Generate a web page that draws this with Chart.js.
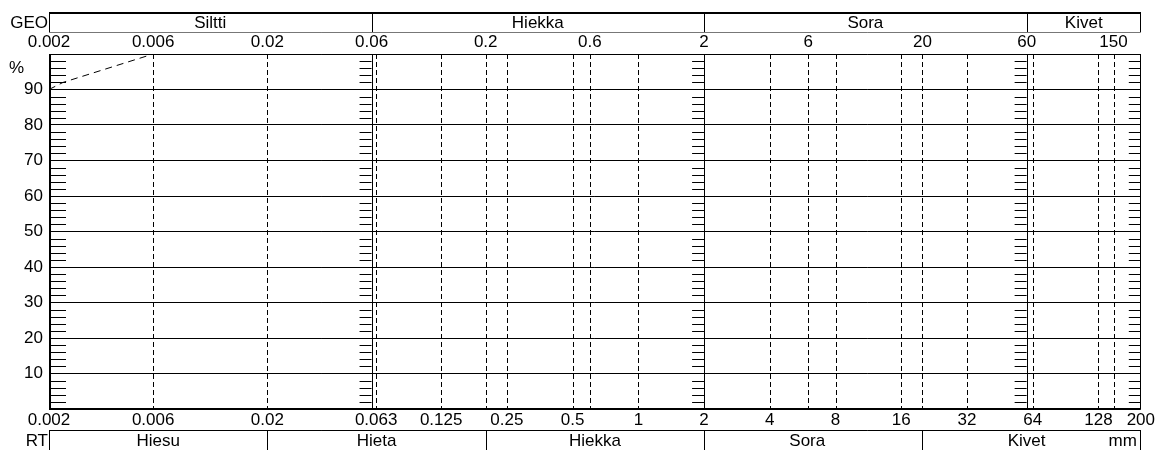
<!DOCTYPE html>
<html>
<head>
<meta charset="utf-8">
<title>Rakeisuuskäyrä</title>
<script src="https://cdn.jsdelivr.net/npm/chart.js@4/dist/chart.umd.min.js"></script>
<style>
  html, body { margin: 0; padding: 0; background: #fff; }
  #wrap { width: 1156px; height: 450px; position: relative; }
</style>
</head>
<body>
<div id="wrap"><canvas id="chart"></canvas></div>
<script>
// grain size classes (mm)
const geoBounds = [0.002, 0.06, 2, 60, 200];
const geoNames = ['Siltti', 'Hiekka', 'Sora', 'Kivet'];
const rtBounds = [0.002, 0.02, 0.2, 2, 20, 200];
const rtNames = ['Hiesu', 'Hieta', 'Hiekka', 'Sora', 'Kivet'];

// tick labels
const topTicks = [0.002, 0.006, 0.02, 0.06, 0.2, 0.6, 2, 6, 20, 60, 150];
const bottomTicks = [0.002, 0.006, 0.02, 0.063, 0.125, 0.25, 0.5, 1, 2, 4, 8, 16, 32, 64, 128, 200];
const percentTicks = [10, 20, 30, 40, 50, 60, 70, 80, 90];

// reference lines
const solidLines = [0.06, 2, 60];
const dashedLines = [0.006, 0.02, 0.063, 0.125, 0.2, 0.25, 0.5, 0.6, 1, 4, 6, 8, 16, 20, 32, 64, 128, 150];
const minorTickLines = [0.002, 0.06, 2, 60, 200];

// measured curve: grain size (mm) vs passing (%)
const grainSize = [0.002, 0.00232, 0.006];
const passing = [90, 92, 100];

const FONT = '"Liberation Sans", Arial, Helvetica, sans-serif';
const FONT_SIZE = 17;

function crisp(p) {
    return Math.round(p) + 0.5;
}

function vline(ctx, px, y0, y1) {
    ctx.beginPath();
    ctx.moveTo(crisp(px), y0);
    ctx.lineTo(crisp(px), y1);
    ctx.stroke();
}

function hline(ctx, x0, x1, py) {
    ctx.beginPath();
    ctx.moveTo(x0, crisp(py));
    ctx.lineTo(x1, crisp(py));
    ctx.stroke();
}

// draws the classification bands, reference lines and minor ticks
const gradingPlugin = {
    id: 'grading',
    beforeDatasetsDraw(chart) {
        const { ctx, chartArea: a, scales: { x, y } } = chart;
        ctx.save();
        ctx.strokeStyle = '#000';
        ctx.lineWidth = 1;

        ctx.setLineDash([5, 3]);
        dashedLines.forEach(v => vline(ctx, x.getPixelForValue(v), a.top, a.bottom));
        ctx.setLineDash([]);
        solidLines.forEach(v => vline(ctx, x.getPixelForValue(v), a.top, a.bottom));

        // short ticks every 2 %
        for (let p = 2; p < 100; p += 2) {
            if (p % 10 === 0) continue;
            const py = y.getPixelForValue(p);
            minorTickLines.forEach((v, i) => {
                const px = x.getPixelForValue(v);
                if (i === 0) hline(ctx, px, px + 17, py);
                else hline(ctx, px - 12, px, py);
            });
        }

        // frame
        hline(ctx, a.left, a.right, a.top);
        ctx.lineWidth = 2;
        ctx.beginPath();
        ctx.moveTo(a.left, Math.round(a.bottom));
        ctx.lineTo(a.right, Math.round(a.bottom));
        ctx.stroke();
        ctx.beginPath();
        ctx.moveTo(Math.round(a.left) + 1, a.top);
        ctx.lineTo(Math.round(a.left) + 1, a.bottom);
        ctx.stroke();
        ctx.lineWidth = 1;
        vline(ctx, a.right - 1, a.top, a.bottom);
        ctx.restore();
    },
    afterDraw(chart) {
        const { ctx, chartArea: a, scales: { x, y } } = chart;
        ctx.save();
        ctx.fillStyle = '#000';
        ctx.strokeStyle = '#000';
        ctx.font = FONT_SIZE + 'px ' + FONT;
        ctx.textBaseline = 'middle';

        // GEO band
        const gTop = 12, gBot = 32;
        ctx.lineWidth = 2;
        ctx.beginPath();
        ctx.moveTo(a.left, gTop + 1);
        ctx.lineTo(a.right, gTop + 1);
        ctx.stroke();
        ctx.lineWidth = 1;
        ctx.strokeStyle = '#777';
        hline(ctx, a.left, a.right, gBot);
        ctx.strokeStyle = '#000';
        geoBounds.forEach((v, i) => {
            const px = i === geoBounds.length - 1 ? x.getPixelForValue(v) - 1 : x.getPixelForValue(v);
            vline(ctx, px, gTop, gBot);
        });
        ctx.textAlign = 'center';
        geoNames.forEach((name, i) => {
            const cx = (x.getPixelForValue(geoBounds[i]) + x.getPixelForValue(geoBounds[i + 1])) / 2;
            ctx.fillText(name, cx, 23);
        });

        // RT band
        const rTop = 430;
        hline(ctx, a.left, a.right, rTop);
        rtBounds.forEach((v, i) => {
            const px = i === rtBounds.length - 1 ? x.getPixelForValue(v) - 1 : x.getPixelForValue(v);
            vline(ctx, px, rTop, chart.height);
        });
        rtNames.forEach((name, i) => {
            let cx = (x.getPixelForValue(rtBounds[i]) + x.getPixelForValue(rtBounds[i + 1])) / 2;
            if (name === 'Kivet') cx -= 5;
            if (name === 'Sora') cx -= 6;
            ctx.fillText(name, cx, 441);
        });

        ctx.textAlign = 'right';
        ctx.fillText('GEO', a.left - 1, 23);
        ctx.fillText('RT', a.left - 1, 441);
        ctx.fillText('mm', a.right - 4, 441);
        ctx.textAlign = 'left';
        ctx.fillText('%', 9, y.getPixelForValue(96));
        ctx.restore();
    }
};

const ctx = document.getElementById('chart').getContext('2d');
const chart = new Chart(ctx, {
    type: 'line',
    data: {
        datasets: [{
            label: 'Läpäisy',
            data: grainSize.map((d, i) => ({ x: d, y: passing[i] })),
            borderColor: '#000',
            borderWidth: 1,
            borderDash: [7, 5],
            pointRadius: 0,
            fill: false,
            tension: 0
        }]
    },
    options: {
        responsive: true,
        maintainAspectRatio: false,
        animation: false,
        layout: { padding: { top: 0, right: 14, bottom: 0, left: 0 } },
        plugins: {
            legend: { display: false },
            tooltip: { enabled: false }
        },
        scales: {
            x: {
                type: 'logarithmic',
                position: 'bottom',
                min: 0.002,
                max: 200,
                afterBuildTicks: s => { s.ticks = bottomTicks.map(v => ({ value: v })); },
                afterFit: s => { s.height = 41; },
                grid: { display: false, drawTicks: false },
                border: { display: false },
                ticks: {
                    autoSkip: false,
                    maxRotation: 0,
                    padding: 1,
                    color: '#000',
                    font: { family: FONT, size: FONT_SIZE },
                    callback: v => String(v)
                }
            },
            x2: {
                type: 'logarithmic',
                position: 'top',
                min: 0.002,
                max: 200,
                afterBuildTicks: s => { s.ticks = topTicks.map(v => ({ value: v })); },
                afterFit: s => { s.height = 54; },
                grid: { display: false, drawTicks: false },
                border: { display: false },
                ticks: {
                    autoSkip: false,
                    maxRotation: 0,
                    padding: 1,
                    color: '#000',
                    font: { family: FONT, size: FONT_SIZE },
                    callback: v => String(v)
                }
            },
            y: {
                type: 'linear',
                min: 0,
                max: 100,
                afterBuildTicks: s => { s.ticks = [0, ...percentTicks, 100].map(v => ({ value: v })); },
                afterFit: s => { s.width = 49; },
                grid: {
                    drawTicks: false,
                    color: c => (c.tick && percentTicks.includes(c.tick.value)) ? '#000' : 'rgba(0,0,0,0)',
                    lineWidth: 1
                },
                border: { display: false },
                ticks: {
                    padding: 6,
                    color: '#000',
                    font: { family: FONT, size: FONT_SIZE },
                    callback: v => percentTicks.includes(v) ? String(v) : ''
                }
            }
        }
    },
    plugins: [gradingPlugin]
});
</script>
</body>
</html>
